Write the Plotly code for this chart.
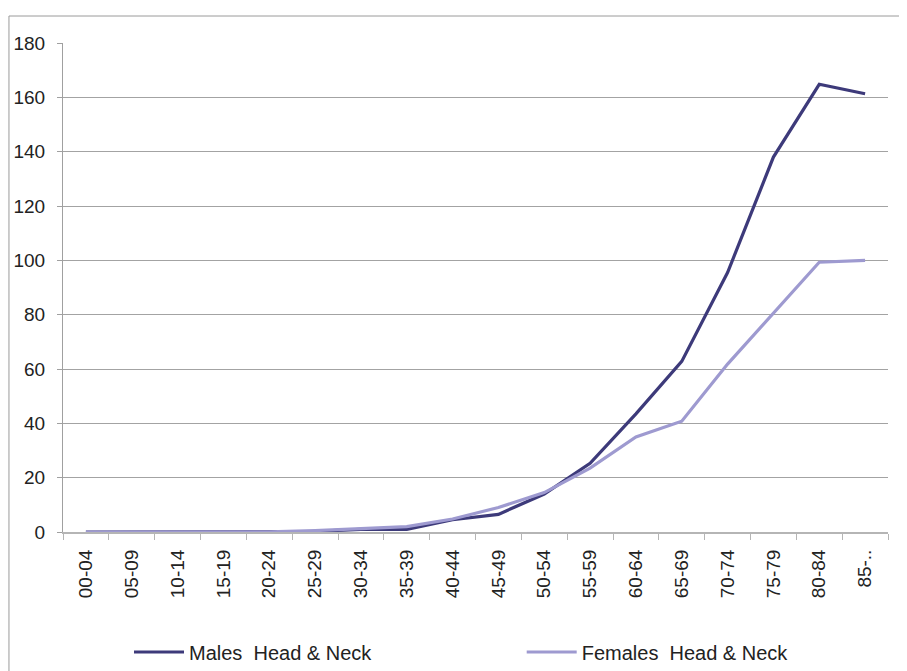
import plotly.graph_objects as go

categories = ["00-04", "05-09", "10-14", "15-19", "20-24", "25-29", "30-34", "35-39",
              "40-44", "45-49", "50-54", "55-59", "60-64", "65-69", "70-74", "75-79",
              "80-84", "85-.."]
males = [0, 0, 0, 0, 0, 0.2, 1.0, 1.0, 4.5, 6.5, 14.0, 25.3, 43.5, 62.8, 95.5, 138.0, 164.8, 161.3]
females = [0, 0, 0, 0, 0.1, 0.5, 1.2, 2.0, 4.8, 9.0, 14.5, 23.5, 35.0, 40.8, 61.8, 80.5, 99.3, 100.0]
y_ticks = [0, 20, 40, 60, 80, 100, 120, 140, 160, 180]

male_color = "#3d3a7a"
female_color = "#9e9ad0"

fig = go.Figure()
fig.add_trace(go.Scatter(x=categories, y=males, mode="lines",
                         name="Males\u00a0\u00a0Head & Neck", legend="legend",
                         line=dict(color=male_color, width=3.2)))
fig.add_trace(go.Scatter(x=categories, y=females, mode="lines",
                         name="Females\u00a0\u00a0Head & Neck", legend="legend2",
                         line=dict(color=female_color, width=3.2)))

legend_font = dict(family="Liberation Sans, Arial, sans-serif", size=20, color="#222222")

fig.update_layout(
    width=899, height=663,
    margin=dict(l=55, r=19, t=35, b=139, autoexpand=False),
    paper_bgcolor="white", plot_bgcolor="white",
    font=dict(family="Liberation Sans, Arial, sans-serif", size=19, color="#222222"),
    showlegend=True,
    legend=dict(orientation="h", x=0.08, xanchor="left", y=-0.2454, yanchor="middle",
                font=legend_font, itemwidth=50, bgcolor="rgba(0,0,0,0)"),
    legend2=dict(orientation="h", x=0.556, xanchor="left", y=-0.2454, yanchor="middle",
                 font=legend_font, itemwidth=50, bgcolor="rgba(0,0,0,0)"),
    shapes=[dict(type="rect", xref="paper", yref="paper", x0=-0.0655, x1=1.2,
                 y0=-0.5, y1=1.0552, line=dict(color="#9a9a9a", width=1),
                 fillcolor="rgba(0,0,0,0)", layer="below")],
)

fig.update_xaxes(
    type="category", range=[-0.5, 17.5],
    tickangle=-90, ticks="outside", tickson="boundaries", ticklen=6,
    tickcolor="#b5b5b5", showline=True, linecolor="#b5b5b5", linewidth=2,
    showgrid=False, tickfont=dict(size=19, color="#222222"),
    ticklabelstandoff=8,
)
fig.update_yaxes(
    range=[0, 180], tickvals=y_ticks, ticks="outside", ticklen=5,
    tickcolor="#a0a0a0", showline=True, linecolor="#a0a0a0", linewidth=1,
    showgrid=True, gridcolor="#a3a3a3", gridwidth=1, zeroline=False,
    tickfont=dict(size=19, color="#222222"), ticklabelstandoff=8,
)

fig.write_html("out.html")
